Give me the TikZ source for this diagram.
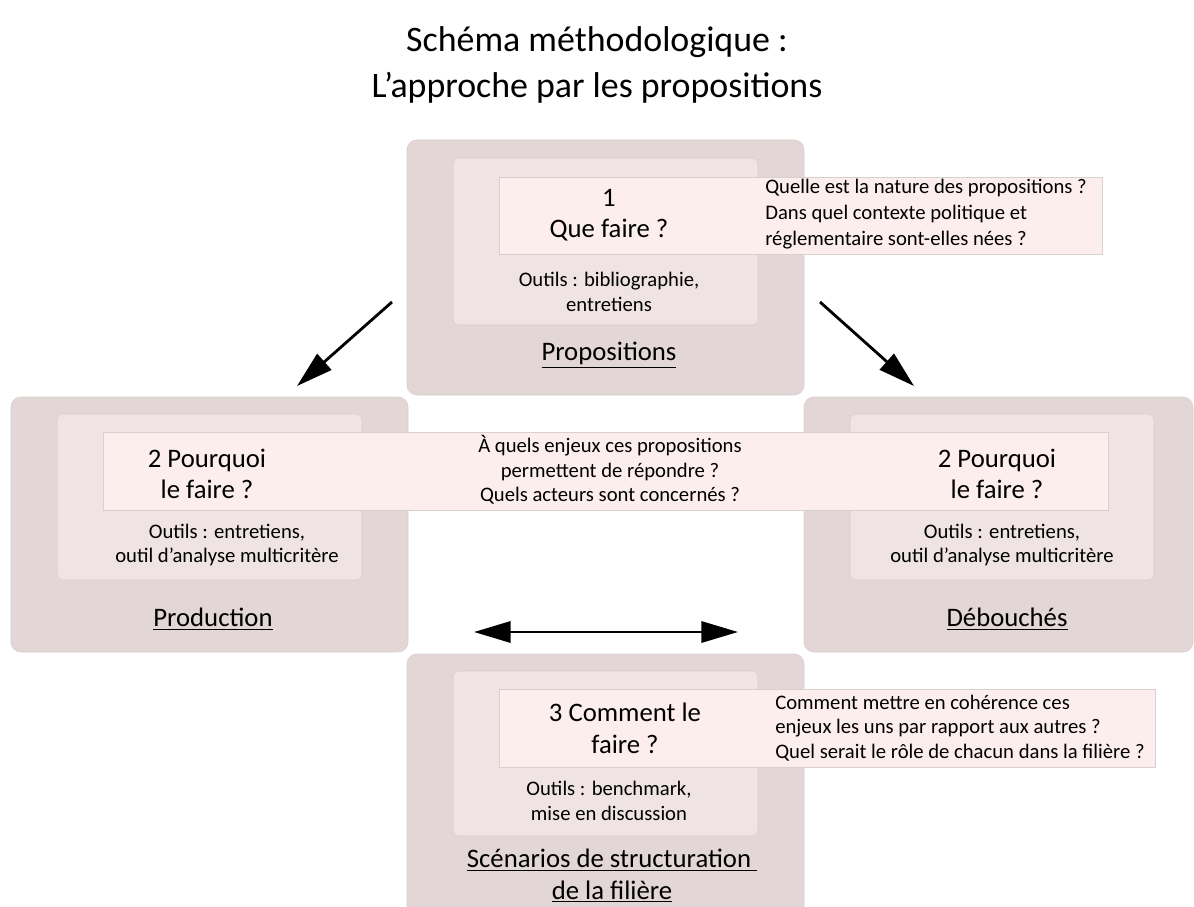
\documentclass[tikz,border=0pt]{standalone}
\usepackage{fontspec}
\setmainfont{Carlito}
\usepackage{xcolor}
\usetikzlibrary{arrows.meta, positioning, fit}

\definecolor{outerfill}{HTML}{E2D6D6}
\definecolor{innerfill}{HTML}{EFE3E3}
\definecolor{hlfill}{HTML}{FDEEEE}
\definecolor{boxline}{HTML}{D8D0D0}

\tikzset{
  outerbox/.style={draw=boxline, fill=outerfill, rounded corners=7pt, inner sep=0pt},
  innerbox/.style={draw=boxline, fill=innerfill, rounded corners=4pt, inner sep=0pt},
  hlbox/.style={draw=boxline, fill=hlfill, inner sep=0pt},
  bigtxt/.style={font=\fontsize{19}{22.5}\selectfont, align=center, inner sep=0pt},
  smalltxt/.style={font=\fontsize{14.7}{17.3}\selectfont, align=center, inner sep=0pt},
  bigarrow/.style={-{Triangle[length=26pt,width=15pt]}, line width=2pt},
}

\begin{document}
\begin{tikzpicture}[x=0.025cm, y=-0.025cm]
\clip (0,0) rectangle (1194,906);
\fill[white] (0,0) rectangle (1194,906);

\node[font=\fontsize{25.5}{33}\selectfont, align=center] (title) at (597,65)
  {Schéma méthodologique :\\L’approche par les propositions};

% box 1
\node[outerbox, fit={(407,140) (804,395)}] (propOuter) {};
\node[innerbox, fit={(453,158) (758,325)}] (propInner) {};
\node[hlbox, fit={(499,177) (1102,254)}] (propHl) {};
\node[bigtxt] (propQ) at (609,215) {1\\Que faire ?};
\node[smalltxt, align=left, anchor=west, font=\fontsize{14.7}{18.3}\selectfont] (propTxt) at (765,214)
  {Quelle est la nature des propositions ?\\Dans quel contexte politique et\\réglementaire sont-elles nées ?};
\node[smalltxt] (propTools) at (609,292) {Outils : bibliographie,\\entretiens};
\node[bigtxt] (propLbl) at (609,355) {\underline{Propositions}};

% boxes 2
\node[outerbox, fit={(11,397) (408,652)}] (prodOuter) {};
\node[outerbox, fit={(804,397) (1193,652)}] (debOuter) {};
\node[innerbox, fit={(57,414) (362,580)}] (prodInner) {};
\node[innerbox, fit={(850,414) (1154,580)}] (debInner) {};
\node[hlbox, fit={(103,432) (1108,510)}] (whyHl) {};
\node[bigtxt] (prodQ) at (207,474) {2 Pourquoi\\le faire ?};
\node[bigtxt] (debQ) at (997,474) {2 Pourquoi\\le faire ?};
\node[smalltxt] (whyTxt) at (610,470)
  {À quels enjeux ces propositions\\permettent de répondre ?\\Quels acteurs sont concernés ?};
\node[smalltxt] (prodTools) at (227,545) {Outils : entretiens,\\outil d’analyse multicritère};
\node[smalltxt] (debTools) at (1002,545) {Outils : entretiens,\\outil d’analyse multicritère};
\node[bigtxt] (prodLbl) at (213,619) {\underline{Production}};
\node[bigtxt] (debLbl) at (1007,619) {\underline{Débouchés}};

% box 3
\node[outerbox, fit={(407,654) (804,930)}] (scenOuter) {};
\node[innerbox, fit={(453,671) (758,836)}] (scenInner) {};
\node[hlbox, fit={(499,689) (1155,767)}] (scenHl) {};
\node[bigtxt] (scenQ) at (625,728) {3 Comment le\\faire ?};
\node[smalltxt, align=left, anchor=west] (scenTxt) at (775,728)
  {Comment mettre en cohérence ces\\enjeux les uns par rapport aux autres ?\\Quel serait le rôle de chacun dans la filière ?};
\node[smalltxt] (scenTools) at (609,801) {Outils : benchmark,\\mise en discussion};
\node[bigtxt] (scenLbl) at (612,876)
  {\underline{Scénarios de structuration\ }\\\underline{de la filière}};

% arrows
\coordinate (la) at (392,302);
\coordinate (lb) at (297,386);
\coordinate (ra) at (820,302);
\coordinate (rb) at (914,386);
\coordinate (da) at (474,632);
\coordinate (db) at (738,632);
\draw[bigarrow] (la) -- (lb);
\draw[bigarrow] (ra) -- (rb);
\draw[bigarrow, {Triangle[length=26pt,width=15pt]}-{Triangle[length=26pt,width=15pt]}] (da) -- (db);
\end{tikzpicture}
\end{document}
